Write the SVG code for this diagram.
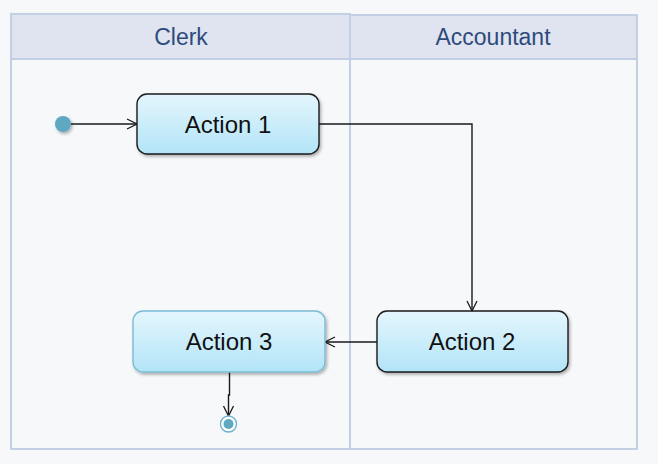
<svg xmlns="http://www.w3.org/2000/svg" width="658" height="464" viewBox="0 0 658 464">
<defs>
<linearGradient id="g" x1="0" y1="0" x2="0" y2="1">
<stop offset="0" stop-color="#e4f6fd"/>
<stop offset="1" stop-color="#b2e4f7"/>
</linearGradient>
<filter id="sh" x="-10%" y="-10%" width="130%" height="140%">
<feDropShadow dx="1.5" dy="2" stdDeviation="1.5" flood-color="#000" flood-opacity="0.3"/>
</filter>
<marker id="arr" viewBox="0 0 12 12" refX="11" refY="6" markerWidth="12" markerHeight="12" markerUnits="userSpaceOnUse" orient="auto">
<path d="M1,1 L11,6 L1,11" fill="none" stroke="#1a1a1a" stroke-width="1.3"/>
</marker>
</defs>
<style>
.hdr{fill:#dfe4f0;stroke:#c3cfe5;stroke-width:2}
.lane{fill:#f7f8fa;stroke:#c3cfe5;stroke-width:2}
.ht{font-family:"Liberation Sans",Arial,sans-serif;font-size:23px;fill:#2e4b7c;text-anchor:middle}
.node{fill:url(#g);filter:url(#sh)}
.nt{font-family:"Liberation Sans",Arial,sans-serif;font-size:24px;fill:#111;text-anchor:middle}
.c{fill:none;stroke:#1a1a1a;stroke-width:1.4;marker-end:url(#arr)}
</style>
<rect width="658" height="464" fill="#f7f8fa"/>
<g id="lane-clerk">
<rect class="lane" x="11" y="59" width="339" height="390"/>
<rect class="hdr" x="11" y="14" width="339" height="45"/>
<text class="ht" x="181" y="45">Clerk</text>
</g>
<g id="lane-accountant">
<rect class="lane" x="350" y="59" width="287" height="390"/>
<rect class="hdr" x="350" y="15" width="287" height="44"/>
<text class="ht" x="493" y="45">Accountant</text>
</g>
<g id="connectors">
<line class="c" x1="71" y1="124" x2="137" y2="124"/>
<polyline class="c" points="319,124 472,124 472,311"/>
<line class="c" x1="377" y1="342" x2="325" y2="342"/>
<polyline class="c" points="229.5,372 229.5,395 228.5,395 228.5,416"/>
</g>
<g id="start">
<circle cx="63" cy="124" r="8" fill="#5fa8c2" filter="url(#sh)"/>
</g>
<g id="action1">
<rect class="node" x="137" y="94" width="182" height="60" rx="10" stroke="#1a1a1a" stroke-width="1.4"/>
<text class="nt" x="228" y="133">Action 1</text>
</g>
<g id="action2">
<rect class="node" x="377" y="311" width="191" height="61" rx="10" stroke="#1a1a1a" stroke-width="1.4"/>
<text class="nt" x="472" y="350">Action 2</text>
</g>
<g id="action3">
<rect class="node" x="133" y="311" width="192" height="61" rx="10" stroke="#7cbcd4" stroke-width="1.4"/>
<text class="nt" x="229" y="350">Action 3</text>
</g>
<g id="end">
<circle cx="228.5" cy="424" r="8" fill="#ffffff" stroke="#6fb3cc" stroke-width="1.4"/>
<circle cx="228.5" cy="424" r="5" fill="#5fa8c2"/>
</g>
</svg>
